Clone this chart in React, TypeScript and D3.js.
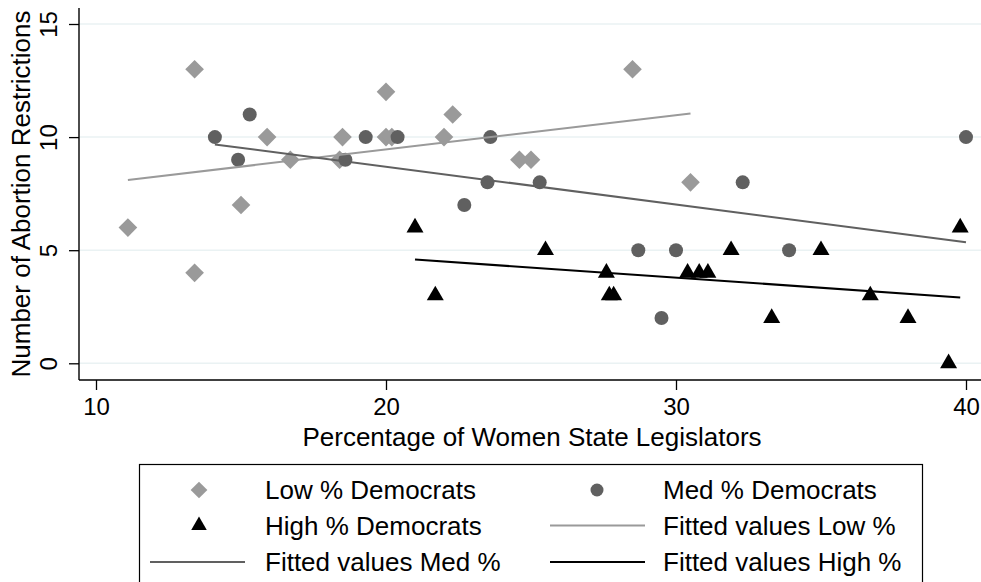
import React, { useEffect, useRef } from "react";
import * as d3 from "d3";

// Low % Democrats (diamonds)
const lowX = [11.1, 13.4, 13.4, 15.0, 15.9, 16.7, 18.4, 18.5, 20.0, 20.0, 20.2, 22.0, 22.3, 24.6, 25.0, 28.5, 30.5];
const lowY = [6, 13, 4, 7, 10, 9, 9, 10, 12, 10, 10, 10, 11, 9, 9, 13, 8];

// Med % Democrats (circles)
const medX = [14.1, 15.3, 14.9, 18.6, 19.3, 20.4, 23.6, 23.5, 22.7, 25.3, 32.3, 40.0, 28.7, 30.0, 33.9, 29.5];
const medY = [10, 11, 9, 9, 10, 10, 10, 8, 7, 8, 8, 10, 5, 5, 5, 2];

// High % Democrats (triangles)
const highX = [21.0, 21.7, 25.5, 27.6, 27.7, 27.85, 30.4, 30.8, 31.1, 31.9, 33.3, 35.0, 36.7, 38.0, 39.4, 39.8];
const highY = [6, 3, 5, 4, 3, 3, 4, 4, 4, 5, 2, 5, 3, 2, 0, 6];

const xTicks = [10, 20, 30, 40];
const yTicks = [0, 5, 10, 15];

const legendLabels = [
  "Low % Democrats",
  "Med % Democrats",
  "High % Democrats",
  "Fitted values Low %",
  "Fitted values Med %",
  "Fitted values High %",
];

const LIGHT = "#9a9a9a";
const DARK = "#606060";
const BLACK = "#000000";
const FONT = "'Liberation Sans', Arial, Helvetica, sans-serif";

// simple OLS fit over the group's x range
function fitLine(xs: number[], ys: number[]) {
  const mx = d3.mean(xs)!;
  const my = d3.mean(ys)!;
  let sxy = 0;
  let sxx = 0;
  xs.forEach((x, i) => {
    sxy += (x - mx) * (ys[i] - my);
    sxx += (x - mx) * (x - mx);
  });
  const b = sxy / sxx;
  const a = my - b * mx;
  const [x0, x1] = d3.extent(xs) as [number, number];
  return [
    [x0, a + b * x0],
    [x1, a + b * x1],
  ];
}

export default function App() {
  const svgRef = useRef<SVGSVGElement | null>(null);

  useEffect(() => {
    if (!svgRef.current) return;
    const svg = d3.select(svgRef.current);
    svg.selectAll("*").remove();

    const plot = { left: 79, right: 981, top: 8, bottom: 380 };

    const x = d3.scaleLinear().domain([10, 40]).range([96, 966]);
    const y = d3.scaleLinear().domain([0, 15]).range([363.3, 24]);

    // grid lines
    svg
      .append("g")
      .selectAll("line")
      .data(yTicks)
      .enter()
      .append("line")
      .attr("x1", plot.left)
      .attr("x2", plot.right)
      .attr("y1", (d) => y(d))
      .attr("y2", (d) => y(d))
      .attr("stroke", "#eaf2f3")
      .attr("stroke-width", 1.5);

    // axes
    const xAxis = svg
      .append("g")
      .attr("transform", `translate(0,${plot.bottom})`)
      .call(d3.axisBottom(x).tickValues(xTicks).tickSize(10).tickSizeOuter(0));
    xAxis.select(".domain").attr("d", `M${plot.left},0H${plot.right}`).attr("stroke-width", 1.4);
    xAxis.selectAll(".tick line").attr("stroke-width", 1.3);
    xAxis
      .selectAll(".tick text")
      .attr("font-family", FONT)
      .attr("font-size", 24)
      .attr("fill", "#000")
      .attr("dy", null)
      .attr("y", 35);

    const yAxis = svg
      .append("g")
      .attr("transform", `translate(${plot.left},0)`)
      .call(d3.axisLeft(y).tickValues(yTicks).tickSize(10).tickSizeOuter(0));
    yAxis.select(".domain").attr("d", `M0,${plot.top}V${plot.bottom}`).attr("stroke-width", 1.4);
    yAxis.selectAll(".tick line").attr("stroke-width", 1.3);
    yAxis
      .selectAll(".tick text")
      .attr("font-family", FONT)
      .attr("font-size", 24)
      .attr("fill", "#000")
      .attr("x", null)
      .attr("dy", null)
      .attr("text-anchor", "middle")
      .attr("transform", "translate(-22,0) rotate(-90)");

    // axis titles
    svg
      .append("text")
      .attr("x", 532)
      .attr("y", 446)
      .attr("text-anchor", "middle")
      .attr("font-family", FONT)
      .attr("font-size", 26)
      .text("Percentage of Women State Legislators");

    svg
      .append("text")
      .attr("transform", "translate(30,194) rotate(-90)")
      .attr("text-anchor", "middle")
      .attr("font-family", FONT)
      .attr("font-size", 26)
      .text("Number of Abortion Restrictions");

    const diamond = d3.symbol().type(d3.symbolSquare).size(174)();
    const triangle = d3.symbol().type(d3.symbolTriangle).size(125)();

    const line = d3
      .line<number[]>()
      .x((d) => x(d[0]))
      .y((d) => y(d[1]));

    // fitted lines
    const fits = [
      { pts: fitLine(lowX, lowY), color: LIGHT },
      { pts: fitLine(medX, medY), color: DARK },
      { pts: fitLine(highX, highY), color: BLACK },
    ];

    // points
    svg
      .append("g")
      .selectAll("path")
      .data(lowX.map((v, i) => [v, lowY[i]]))
      .enter()
      .append("path")
      .attr("d", diamond)
      .attr("transform", (d) => `translate(${x(d[0])},${y(d[1])}) rotate(45)`)
      .attr("fill", LIGHT);

    svg
      .append("g")
      .selectAll("circle")
      .data(medX.map((v, i) => [v, medY[i]]))
      .enter()
      .append("circle")
      .attr("cx", (d) => x(d[0]))
      .attr("cy", (d) => y(d[1]))
      .attr("r", 7)
      .attr("fill", DARK);

    svg
      .append("g")
      .selectAll("path")
      .data(highX.map((v, i) => [v, highY[i]]))
      .enter()
      .append("path")
      .attr("d", triangle)
      .attr("transform", (d) => `translate(${x(d[0])},${y(d[1])})`)
      .attr("fill", BLACK);

    fits.forEach((f) => {
      svg
        .append("path")
        .attr("d", line(f.pts))
        .attr("fill", "none")
        .attr("stroke", f.color)
        .attr("stroke-width", 2);
    });

    // legend
    const lg = svg.append("g");
    lg.append("rect")
      .attr("x", 139.5)
      .attr("y", 464.5)
      .attr("width", 783)
      .attr("height", 140)
      .attr("fill", "#fff")
      .attr("stroke", "#000")
      .attr("stroke-width", 1.2);

    const rows = [490, 525.5, 562];
    const cols = [{ sym: 199, l0: 150, l1: 245, tx: 265 }, { sym: 597, l0: 550, l1: 645, tx: 663 }];
    const items = [
      { kind: "diamond", color: LIGHT },
      { kind: "circle", color: DARK },
      { kind: "triangle", color: BLACK },
      { kind: "line", color: LIGHT },
      { kind: "line", color: DARK },
      { kind: "line", color: BLACK },
    ];
    items.forEach((it, i) => {
      const c = cols[i % 2];
      const ry = rows[Math.floor(i / 2)];
      if (it.kind === "diamond") {
        lg.append("path")
          .attr("d", d3.symbol().type(d3.symbolSquare).size(140)())
          .attr("transform", `translate(${c.sym},${ry}) rotate(45)`)
          .attr("fill", it.color);
      } else if (it.kind === "circle") {
        lg.append("circle").attr("cx", c.sym).attr("cy", ry).attr("r", 6.5).attr("fill", it.color);
      } else if (it.kind === "triangle") {
        lg.append("path")
          .attr("d", d3.symbol().type(d3.symbolTriangle).size(105)())
          .attr("transform", `translate(${c.sym},${ry})`)
          .attr("fill", it.color);
      } else {
        lg.append("line")
          .attr("x1", c.l0)
          .attr("x2", c.l1)
          .attr("y1", ry)
          .attr("y2", ry)
          .attr("stroke", it.color)
          .attr("stroke-width", 2);
      }
      lg.append("text")
        .attr("x", c.tx)
        .attr("y", ry + 9)
        .attr("font-family", FONT)
        .attr("font-size", 26)
        .text(legendLabels[i]);
    });
  }, []);

  return (
    <svg
      ref={svgRef}
      width={981}
      height={582}
      style={{ position: "absolute", left: 0, top: 0, background: "#fff" }}
    />
  );
}
